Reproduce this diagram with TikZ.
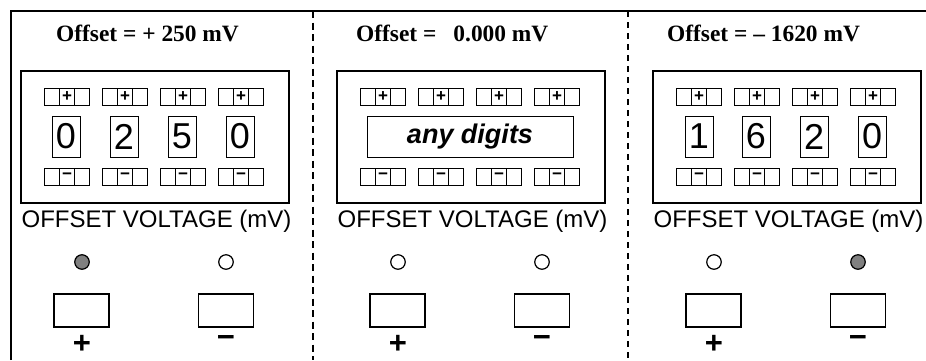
\documentclass[tikz,border=0pt]{standalone}
\usepackage{fontspec}
\setmainfont{Liberation Serif}
\setsansfont{Liberation Sans}
\usetikzlibrary{positioning}
\definecolor{ledgray}{RGB}{128,128,128}

\begin{document}
\begin{tikzpicture}[
    x=1pt, y=-1pt,
    outerline/.style={line width=2pt},
    divider/.style={line width=2.4pt, dash pattern=on 7pt off 4.5pt},
    display/.style={
        draw,
        line width=1.3pt,
        minimum width=268pt,
        minimum height=132pt
    },
    cell/.style={
        draw,
        line width=1pt,
        minimum width=15pt,
        minimum height=17pt,
        inner sep=0pt,
        outer sep=0pt,
        font=\sffamily\bfseries\fontsize{17}{17}\selectfont
    },
    digitbox/.style={
        draw,
        line width=1pt,
        minimum width=28pt,
        minimum height=41pt,
        inner sep=0pt,
        font=\sffamily\fontsize{36}{36}\selectfont
    },
    title/.style={anchor=base west, inner sep=0pt,
        font=\bfseries\fontsize{23.4}{28}\selectfont},
    caption/.style={anchor=base, inner sep=0pt,
        font=\sffamily\fontsize{24}{28}\selectfont},
    led/.style={circle, draw, line width=1.2pt, minimum size=14.5pt, inner sep=0pt},
    button/.style={draw, line width=1.5pt, minimum width=55pt,
        minimum height=33pt, inner sep=0pt},
    sign/.style={inner sep=0pt, font=\sffamily\bfseries\fontsize{31}{31}\selectfont}
]
    \useasboundingbox (0,0) rectangle (926,360);

    % frame and dividers
    \draw[outerline] (11,360) -- (11,11) -- (926,11);
    \draw[divider] (313,11) -- (313,360);
    \draw[divider, line width=1.6pt, dash pattern=on 6pt off 5pt] (628,11) -- (628,360);

    % titles
    \node[title] (title1) at (56,41) {Offset = + 250 mV};
    \node[title] (title2) at (356,41) {Offset =\hspace{17pt}0.000 mV};
    \node[title] (title3) at (667,41) {Offset = – 1620 mV};

    % the three panels
    \foreach \p/\cx/\fp/\fm in {1/155/ledgray/white, 2/471/white/white, 3/787/white/ledgray} {
        \begin{scope}[xshift=\cx pt]
            \node[display] (disp\p) at (0,137) {};

            \foreach \k/\gx in {1/-88, 2/-30, 3/28, 4/86} {
                \node[cell] (up\p\k) at (\gx,96.5) {+};
                \node[cell, left=0pt of up\p\k] (upl\p\k) {};
                \node[cell, right=0pt of up\p\k] (upr\p\k) {};
                \node[cell] (dn\p\k) at (\gx,176.5) {−};
                \node[cell, left=0pt of dn\p\k] (dnl\p\k) {};
                \node[cell, right=0pt of dn\p\k] (dnr\p\k) {};
            }

            \node[caption] (cap\p) at (1.5,227) {OFFSET VOLTAGE (mV)};

            \node[led, fill=\fp] (ledp\p) at (-73,262) {};
            \node[led, fill=\fm] (ledm\p) at (71,262) {};

            \node[button] (btnp\p) at (-73.5,310.5) {};
            \node[button] (btnm\p) at (71,310.5) {};

            \node[sign] (signp\p) at (-73,344) {+};
            \node[sign] (signm\p) at (71,341.5) {−};
        \end{scope}
    }

    % digit windows
    \begin{scope}[xshift=155pt]
        \foreach \k/\dx/\d in {1/-89/0, 2/-31/2, 3/27/5, 4/85/0}
            \node[digitbox] (dig1\k) at (\dx,136.5) {\d};
    \end{scope}
    \node[digitbox, minimum width=206pt,
        font=\sffamily\bfseries\itshape\fontsize{27}{27}\selectfont]
        (dig2) at (470,136.5) {any digits};
    \begin{scope}[xshift=787pt]
        \foreach \k/\dx/\d in {1/-88/1, 2/-31/6, 3/27/2, 4/85/0}
            \node[digitbox] (dig3\k) at (\dx,136.5) {\d};
    \end{scope}
\end{tikzpicture}
\end{document}
